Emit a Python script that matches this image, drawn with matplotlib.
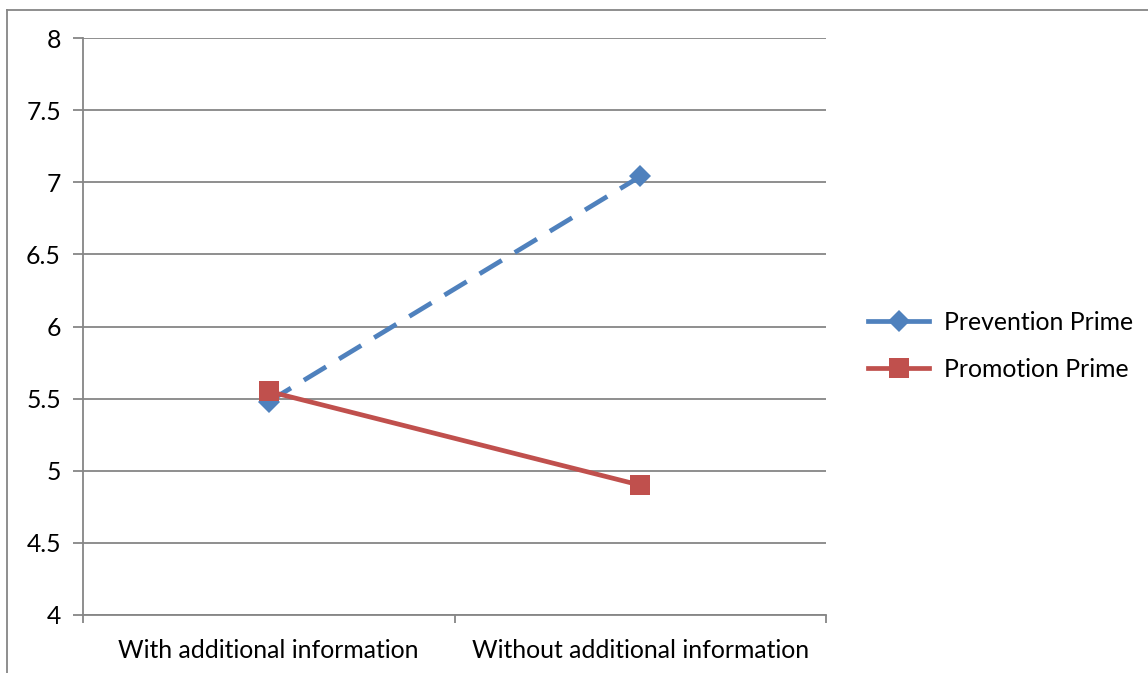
import matplotlib.pyplot as plt
from matplotlib.lines import Line2D

categories = ["With additional information", "Without additional information"]
prevention = [5.48, 7.04]
promotion = [5.55, 4.90]
y_ticks = [4, 4.5, 5, 5.5, 6, 6.5, 7, 7.5, 8]

blue = "#4F81BD"
red = "#C0504D"
grey = "#868686"

plt.rcParams["font.family"] = ["Lato", "DejaVu Sans"]

fig = plt.figure(figsize=(11.48, 6.73), dpi=100)
ax = fig.add_axes([83 / 1148, 1 - 615 / 673, (826 - 83) / 1148, (615 - 38) / 673])

x = [i + 0.5 for i in range(len(categories))]

ax.plot(x, prevention, color=blue, lw=3.4, ls=(0, (5.5, 3.2)), marker="D",
        ms=11, markeredgewidth=0, label="Prevention Prime", zorder=3)
ax.plot(x, promotion, color=red, lw=3.4, marker="s", ms=14,
        markeredgewidth=0, label="Promotion Prime", zorder=4)

ax.set_xlim(0, len(categories))
ax.set_ylim(4, 8)
ax.set_yticks(y_ticks)
ax.set_yticklabels([f"{v:g}" for v in y_ticks])
ax.yaxis.grid(True, color=grey, lw=1.3)
ax.set_axisbelow(True)

ax.set_xticks(range(len(categories) + 1))
ax.set_xticklabels([])
ax.set_xticks(x, minor=True)
ax.set_xticklabels(categories, minor=True)
ax.tick_params(axis="x", which="minor", length=0, pad=17, labelsize=17.8)
ax.tick_params(axis="x", which="major", direction="out", length=6, width=1.3, color=grey)
ax.tick_params(axis="y", direction="out", length=7, width=1.3, color=grey, pad=9, labelsize=17.8)

for side in ["top", "right"]:
    ax.spines[side].set_visible(False)
for side in ["left", "bottom"]:
    ax.spines[side].set_color(grey)
    ax.spines[side].set_linewidth(1.3)

handles = [
    Line2D([], [], color=blue, lw=3.4, marker="D", ms=11, markeredgewidth=0),
    Line2D([], [], color=red, lw=3.4, marker="s", ms=14, markeredgewidth=0),
]
fig.legend(handles, ["Prevention Prime", "Promotion Prime"], loc="center left",
           bbox_to_anchor=(846 / 1148, 1 - 346 / 673), frameon=False,
           fontsize=17.8, handlelength=2.45, handletextpad=0.6, labelspacing=0.98)

# chart area frame, running off the right and bottom edges
fig.add_artist(Line2D([7 / 1148, 7 / 1148], [0, 1 - 10 / 673], color=grey, lw=1.3,
                      transform=fig.transFigure))
fig.add_artist(Line2D([7 / 1148, 1], [1 - 10 / 673, 1 - 10 / 673], color=grey, lw=1.3,
                      transform=fig.transFigure))

fig.savefig("out.png", dpi=100)
